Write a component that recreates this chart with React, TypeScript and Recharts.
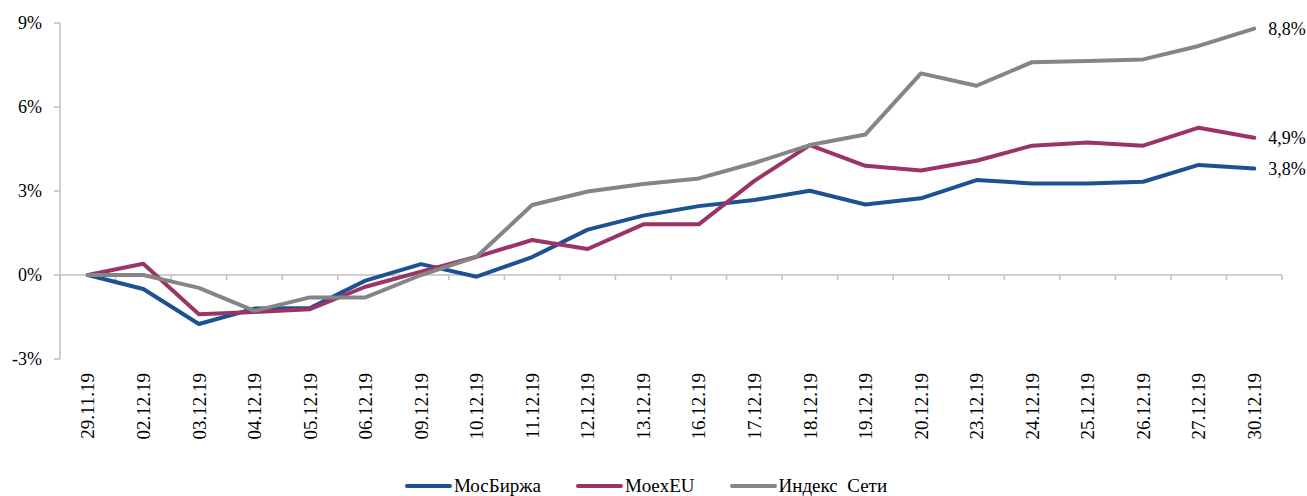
import React from 'react';
import { LineChart, Line, XAxis, YAxis, ReferenceLine, Legend, LabelList } from 'recharts';

const dates = ['29.11.19','02.12.19','03.12.19','04.12.19','05.12.19','06.12.19','09.12.19','10.12.19','11.12.19','12.12.19','13.12.19','16.12.19','17.12.19','18.12.19','19.12.19','20.12.19','23.12.19','24.12.19','25.12.19','26.12.19','27.12.19','30.12.19'];
const mosBirzha = [0,-0.5,-1.75,-1.2,-1.18,-0.2,0.39,-0.06,0.64,1.62,2.12,2.46,2.68,3.01,2.52,2.74,3.39,3.27,3.27,3.33,3.93,3.8];
const moexEU = [0,0.4,-1.4,-1.32,-1.22,-0.42,0.12,0.65,1.25,0.93,1.81,1.81,3.36,4.64,3.9,3.73,4.08,4.62,4.73,4.62,5.26,4.9];
const indexSeti = [0,0,-0.46,-1.28,-0.8,-0.8,0.0,0.65,2.5,2.98,3.25,3.45,4.0,4.64,5.02,7.2,6.76,7.6,7.64,7.7,8.18,8.8];
const yTicks = [-3,0,3,6,9];

const series = [
  { key: 'mos', name: 'МосБиржа', color: '#1C5192', values: mosBirzha },
  { key: 'eu', name: 'MoexEU', color: '#9B3466', values: moexEU },
  { key: 'idx', name: 'Индекс  Сети', color: '#858585', values: indexSeti },
];

const data = dates.map((d, i) => ({
  idx: i,
  date: d,
  mos: mosBirzha[i],
  eu: moexEU[i],
  idx2: indexSeti[i],
}));
const dataKeys: Record<string, string> = { mos: 'mos', eu: 'eu', idx: 'idx2' };

const FONT = '"Liberation Serif", "Times New Roman", serif';
const AXIS_GRAY = '#BFBFBF';

const XTick = (props: any) => {
  const { x, y, payload } = props;
  return (
    <g transform={`translate(${x},${y})`}>
      <text transform="rotate(-90)" x={y - 373} y={0} dy="0.35em" textAnchor="end" fontFamily={FONT} fontSize={19} fill="#000">
        {dates[payload.value]}
      </text>
    </g>
  );
};

const EndLabel = (props: any) => {
  const { x, y, value, index } = props;
  if (index !== dates.length - 1) return null;
  return (
    <text x={x + 14} y={y} dy="0.35em" fontFamily={FONT} fontSize={18} fill="#000">
      {Number(value).toFixed(1).replace('.', ',') + '%'}
    </text>
  );
};

const LegendContent = () => (
  <div style={{ display: 'flex', justifyContent: 'center', alignItems: 'center', gap: 35, height: 24, paddingTop: 4, paddingLeft: 10, boxSizing: 'border-box', fontFamily: FONT, fontSize: 19, color: '#000' }}>
    {series.map((s) => (
      <div key={s.key} style={{ display: 'flex', alignItems: 'center', whiteSpace: 'pre' }}>
        <div style={{ width: 47, height: 4, background: s.color, borderRadius: 2, marginRight: 2 }} />
        <span>{s.name}</span>
      </div>
    ))}
  </div>
);

const boundaries = Array.from({ length: dates.length + 1 }, (_, k) => k - 0.5);

export default function App() {
  return (
    <div style={{ position: 'absolute', left: 0, top: 0, width: 1307, height: 496, background: '#fff' }}>
      <LineChart width={1307} height={496} data={data} margin={{ top: 23, right: 25, left: 0, bottom: 0 }}>
        <XAxis
          dataKey="idx"
          type="number"
          domain={[-0.5, dates.length - 0.5]}
          ticks={dates.map((_, i) => i)}
          interval={0}
          axisLine={false}
          tickLine={false}
          height={113}
          tick={<XTick />}
        />
        <YAxis
          domain={[-3, 9]}
          ticks={yTicks}
          width={60}
          tickFormatter={(v: number) => `${v}%`}
          axisLine={{ stroke: AXIS_GRAY, strokeWidth: 1.5 }}
          tickLine={{ stroke: AXIS_GRAY, strokeWidth: 1.5 }}
          tickSize={6}
          tickMargin={12}
          tick={{ fontFamily: FONT, fontSize: 18, fill: '#000' }}
        />
        <ReferenceLine y={0} stroke={AXIS_GRAY} strokeWidth={1.5} />
        {boundaries.map((b) => (
          <ReferenceLine key={b} segment={[{ x: b, y: 0 }, { x: b, y: -0.18 }]} stroke={AXIS_GRAY} strokeWidth={1.5} />
        ))}
        {series.map((s) => (
          <Line
            key={s.key}
            type="linear"
            dataKey={dataKeys[s.key]}
            name={s.name}
            stroke={s.color}
            strokeWidth={4}
            dot={false}
            activeDot={false}
            strokeLinejoin="round"
            strokeLinecap="round"
            isAnimationActive={false}
          >
            <LabelList dataKey={dataKeys[s.key]} content={<EndLabel />} />
          </Line>
        ))}
        <Legend verticalAlign="bottom" height={24} content={<LegendContent />} />
      </LineChart>
    </div>
  );
}
